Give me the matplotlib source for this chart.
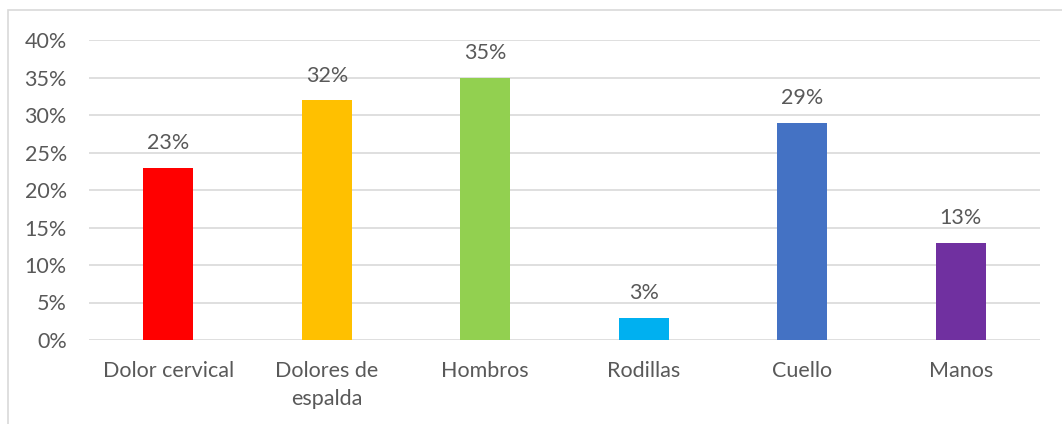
import matplotlib.pyplot as plt
from matplotlib.patches import Rectangle
from matplotlib.ticker import MultipleLocator, FuncFormatter

categorias = ["Dolor cervical", "Dolores de\nespalda", "Hombros", "Rodillas", "Cuello", "Manos"]
porcentajes = [23, 32, 35, 3, 29, 13]
colores = ["#FF0000", "#FFC000", "#92D050", "#00B0F0", "#4472C4", "#7030A0"]

plt.rcParams['font.family'] = ['Lato', 'DejaVu Sans']
gris = "#595959"

fig = plt.figure(figsize=(10.62, 4.24), dpi=100)
ax = fig.add_axes([89 / 1062, 1 - 340 / 424, 951 / 1062, 300 / 424])

x = range(len(categorias))
ax.bar(x, porcentajes, width=0.315, color=colores, zorder=3)

for xi, v in zip(x, porcentajes):
    ax.text(xi, v + 1.9, f"{v}%", ha="center", va="bottom", fontsize=15.5, color=gris)

ax.set_ylim(0, 40)
ax.set_xlim(-0.5, len(categorias) - 0.5)
ax.yaxis.set_major_locator(MultipleLocator(5))
ax.yaxis.set_major_formatter(FuncFormatter(lambda v, p: f"{v:.0f}%"))
ax.grid(axis="y", color="#D9D9D9", linewidth=1.2, zorder=0)
ax.set_xticks(list(x))
ax.set_xticklabels(categorias, fontsize=15.5, color=gris, linespacing=1.5)
ax.tick_params(axis="y", labelsize=15.5, labelcolor=gris, length=0, pad=16)
ax.tick_params(axis="x", length=0, pad=15)
for s in ax.spines.values():
    s.set_visible(False)

# marco exterior del gráfico
fig.patches.append(Rectangle((8 / 1062, -0.1), 1.2, 1 - 10 / 424 + 0.1,
                             transform=fig.transFigure, fill=False,
                             edgecolor="#D9D9D9", linewidth=1.2))

fig.savefig("out.png", dpi=100)
